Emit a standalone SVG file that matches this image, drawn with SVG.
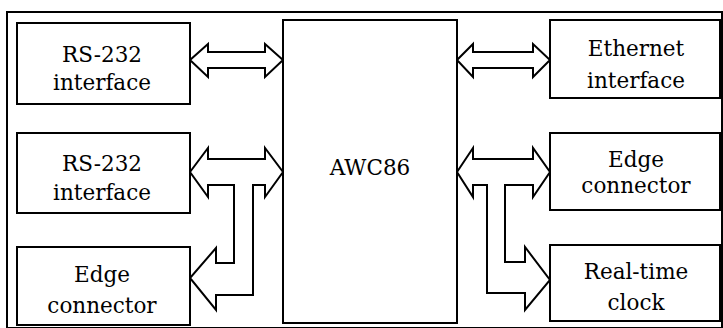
<svg xmlns="http://www.w3.org/2000/svg" width="723" height="328" viewBox="0 0 723 328">
<style>
.box{fill:#fff;stroke:#000;stroke-width:2}
.frame{fill:none;stroke:#000;stroke-width:2}
.arr{fill:#fff;stroke:#000;stroke-width:2;stroke-linejoin:miter}
.t{font-family:'DejaVu Serif','Liberation Serif',serif;font-size:21.5px;fill:#000;text-anchor:middle}
</style>
<rect width="723" height="328" fill="#fff"/>
<rect class="frame" x="7" y="12" width="715" height="316"/>
<g id="connectors">
<polygon class="arr" points="190,60 208,44 208,52 265,52 265,44 283,60 265,77 265,68 208,68 208,77"/>
<polygon class="arr" points="457,60 473,44 473,52 533,52 533,44 550,60 533,77 533,68 473,68 473,77"/>
<polygon class="arr" points="190,172 208,148 208,159 265,159 265,148 283,172 265,197 265,185 253,185 253,295 216,295 216,310 190,278 216,248 216,263 234,263 234,185 208,185 208,197"/>
<polygon class="arr" points="457,172 473,148 473,159 533,159 533,148 550,172 533,197 533,185 505,185 505,262 525,262 525,247 550,280 525,310 525,293 487,293 487,185 473,185 473,197"/>
</g>
<g id="rs232a"><rect class="box" x="17" y="23" width="173" height="81"/><text class="t" x="102" y="62">RS-232</text><text class="t" x="102" y="90">interface</text></g>
<g id="rs232b"><rect class="box" x="17" y="133" width="173" height="80"/><text class="t" x="102" y="171">RS-232</text><text class="t" x="102" y="200">interface</text></g>
<g id="edgeL"><rect class="box" x="17" y="247" width="173" height="78"/><text class="t" x="102" y="282">Edge</text><text class="t" x="102" y="313">connector</text></g>
<g id="awc86"><rect class="box" x="283" y="20" width="174" height="303"/><text class="t" x="370" y="175">AWC86</text></g>
<g id="ethernet"><rect class="box" x="550" y="20" width="170" height="78"/><text class="t" x="636" y="56">Ethernet</text><text class="t" x="636" y="88">interface</text></g>
<g id="edgeR"><rect class="box" x="550" y="133" width="170" height="77"/><text class="t" x="636" y="167">Edge</text><text class="t" x="636" y="193">connector</text></g>
<g id="rtc"><rect class="box" x="550" y="245" width="170" height="76"/><text class="t" x="636" y="279">Real-time</text><text class="t" x="636" y="310">clock</text></g>
</svg>
